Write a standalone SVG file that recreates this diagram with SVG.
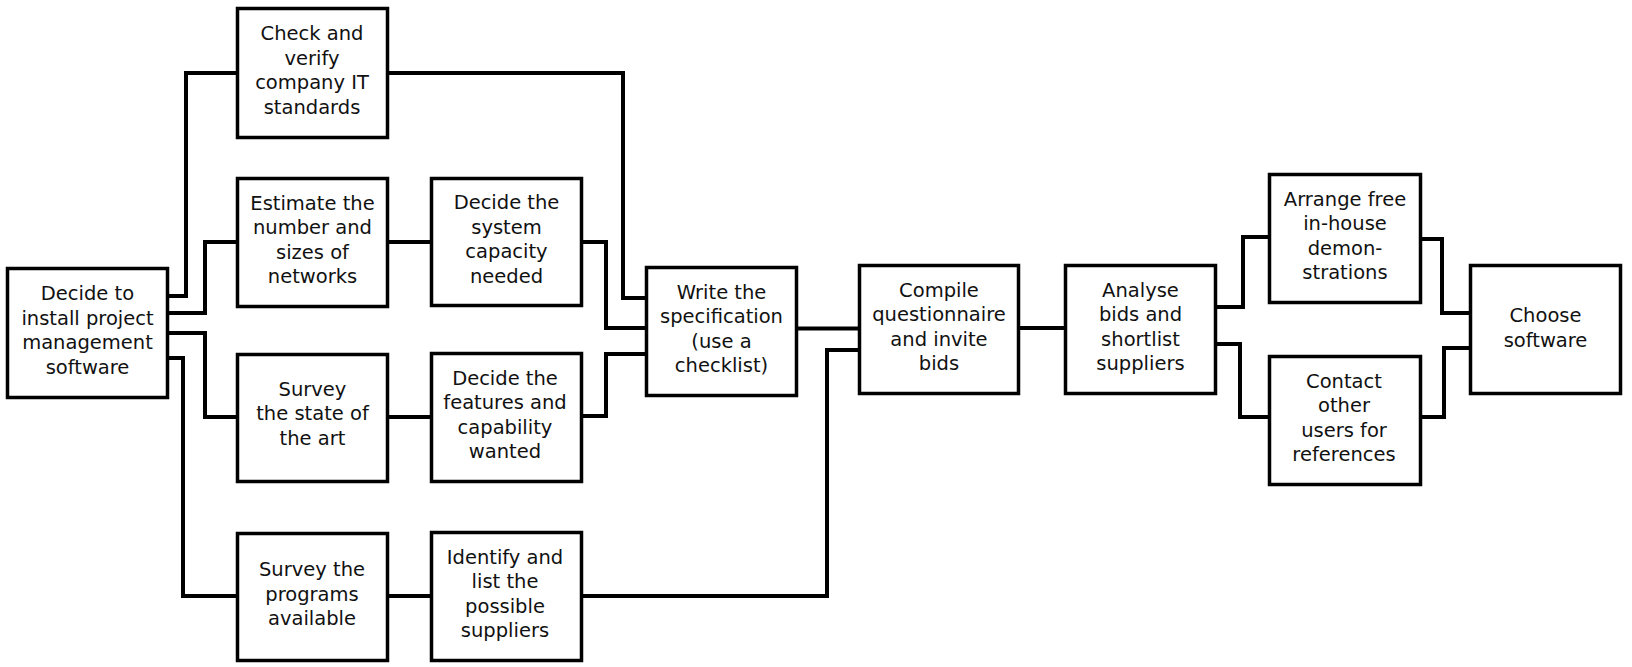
<svg xmlns="http://www.w3.org/2000/svg" width="1632" height="667" viewBox="0 0 1632 667">
<style>
.box{fill:#fff;stroke:#000;stroke-width:3.5}
.c{fill:none;stroke:#000;stroke-width:4;stroke-linejoin:miter;stroke-linecap:butt}
text{font-family:"DejaVu Sans","Verdana",sans-serif;font-size:19.5px;fill:#111;text-anchor:middle}
</style>
<rect width="1632" height="667" fill="#fff"/>
<g id="connectors">
<polyline class="c" points="169,296 186,296 186,73 236,73"/>
<polyline class="c" points="389,73 623,73 623,298 645,298"/>
<polyline class="c" points="169,313 205,313 205,242 236,242"/>
<polyline class="c" points="389,242 430,242"/>
<polyline class="c" points="583,242 606,242 606,328 645,328"/>
<polyline class="c" points="169,333 205,333 205,417 236,417"/>
<polyline class="c" points="389,417 430,417"/>
<polyline class="c" points="583,416 606,416 606,354 645,354"/>
<polyline class="c" points="169,358 183,358 183,596 236,596"/>
<polyline class="c" points="389,596 430,596"/>
<polyline class="c" points="583,596 827,596 827,350 858,350"/>
<polyline class="c" points="798,328.5 858,328.5"/>
<polyline class="c" points="1020,328 1064,328"/>
<polyline class="c" points="1217,307 1243,307 1243,237 1268,237"/>
<polyline class="c" points="1217,344 1240,344 1240,417 1268,417"/>
<polyline class="c" points="1422,239 1442,239 1442,313 1469,313"/>
<polyline class="c" points="1422,417 1444,417 1444,348 1469,348"/>
</g>
<g id="decide">
<rect class="box" x="7.5" y="268.5" width="160" height="129"/>
<text x="87.5" y="300">Decide to</text><text x="87.5" y="324.5">install project</text><text x="87.5" y="349">management</text><text x="87.5" y="373.5">software</text>
</g>
<g id="check">
<rect class="box" x="237.5" y="8.5" width="150" height="129"/>
<text x="312" y="40">Check and</text><text x="312" y="64.5">verify</text><text x="312" y="89">company IT</text><text x="312" y="113.5">standards</text>
</g>
<g id="estimate">
<rect class="box" x="237.5" y="178.5" width="150" height="128"/>
<text x="312.5" y="209.5">Estimate the</text><text x="312.5" y="234">number and</text><text x="312.5" y="258.5">sizes of</text><text x="312.5" y="283">networks</text>
</g>
<g id="surveyState">
<rect class="box" x="237.5" y="354.5" width="150" height="127"/>
<text x="312.5" y="395.5">Survey</text><text x="312.5" y="420">the state of</text><text x="312.5" y="444.5">the art</text>
</g>
<g id="surveyPrograms">
<rect class="box" x="237.5" y="533.5" width="150" height="127"/>
<text x="312" y="576">Survey the</text><text x="312" y="600.5">programs</text><text x="312" y="625">available</text>
</g>
<g id="capacity">
<rect class="box" x="431.5" y="178.5" width="150" height="127"/>
<text x="506.5" y="209">Decide the</text><text x="506.5" y="233.5">system</text><text x="506.5" y="258">capacity</text><text x="506.5" y="282.5">needed</text>
</g>
<g id="features">
<rect class="box" x="431.5" y="353.5" width="150" height="128"/>
<text x="505" y="384.5">Decide the</text><text x="505" y="409">features and</text><text x="505" y="433.5">capability</text><text x="505" y="458">wanted</text>
</g>
<g id="identify">
<rect class="box" x="431.5" y="532.5" width="150" height="128"/>
<text x="505" y="563.5">Identify and</text><text x="505" y="588">list the</text><text x="505" y="612.5">possible</text><text x="505" y="637">suppliers</text>
</g>
<g id="write">
<rect class="box" x="646.5" y="267.5" width="150" height="128"/>
<text x="721.5" y="298.5">Write the</text><text x="721.5" y="323">specification</text><text x="721.5" y="347.5">(use a</text><text x="721.5" y="372">checklist)</text>
</g>
<g id="compile">
<rect class="box" x="859.5" y="265.5" width="159" height="128"/>
<text x="939" y="296.5">Compile</text><text x="939" y="321">questionnaire</text><text x="939" y="345.5">and invite</text><text x="939" y="370">bids</text>
</g>
<g id="analyse">
<rect class="box" x="1065.5" y="265.5" width="150" height="128"/>
<text x="1140.5" y="296.5">Analyse</text><text x="1140.5" y="321">bids and</text><text x="1140.5" y="345.5">shortlist</text><text x="1140.5" y="370">suppliers</text>
</g>
<g id="arrange">
<rect class="box" x="1269.5" y="174.5" width="151" height="128"/>
<text x="1345" y="205.5">Arrange free</text><text x="1345" y="230">in-house</text><text x="1345" y="254.5">demon-</text><text x="1345" y="279">strations</text>
</g>
<g id="contact">
<rect class="box" x="1269.5" y="356.5" width="151" height="128"/>
<text x="1344" y="387.5">Contact</text><text x="1344" y="412">other</text><text x="1344" y="436.5">users for</text><text x="1344" y="461">references</text>
</g>
<g id="choose">
<rect class="box" x="1470.5" y="265.5" width="150" height="128"/>
<text x="1545.5" y="322">Choose</text><text x="1545.5" y="346.5">software</text>
</g>
</svg>
